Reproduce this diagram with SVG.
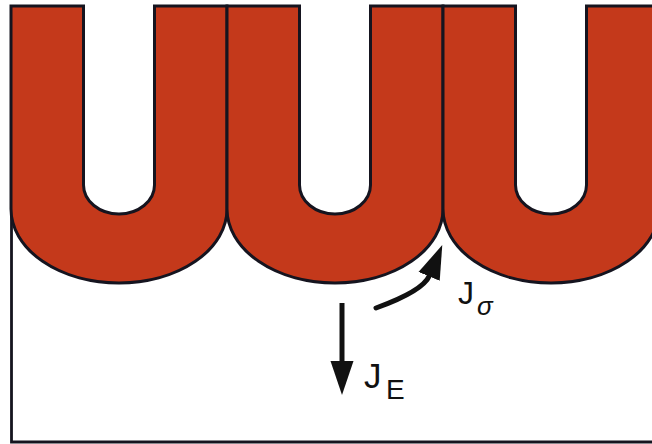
<svg xmlns="http://www.w3.org/2000/svg" width="652" height="444" viewBox="0 0 652 444">
  <style>
    .u { fill: #c4391b; stroke: #15141f; stroke-width: 3; stroke-linejoin: miter; }
    .frame { fill: none; stroke: #15141f; stroke-width: 2.8; }
    .shaft { fill: none; stroke: #111; stroke-width: 5; }
    .lbl { font-family: "Liberation Sans", Arial, sans-serif; fill: #111; }
  </style>
  <defs>
    <marker id="head" markerUnits="userSpaceOnUse" viewBox="0 0 34 24" markerWidth="34" markerHeight="24" refX="1" refY="12" orient="auto">
      <path d="M0,0.5 L34,12 L0,23.5 Z" fill="#111"/>
    </marker>
  </defs>
  <rect x="0" y="0" width="652" height="444" fill="#ffffff"/>
  <path class="frame" d="M11.5,6 L11.5,442 L652,442"/>
  <g id="u1">
    <path class="u" d="M11,6 L11,209 A108,74 0 0 0 227,209 L227,6 L154.5,6 L154.5,185 A35.5,29 0 0 1 83.5,185 L83.5,6 Z"/>
  </g>
  <g id="u2">
    <path class="u" d="M227,6 L227,209 A108,74 0 0 0 443,209 L443,6 L370.5,6 L370.5,185 A35.5,29 0 0 1 299.5,185 L299.5,6 Z"/>
  </g>
  <g id="u3">
    <path class="u" d="M443,6 L443,209 A108,74 0 0 0 659,209 L659,6 L586.5,6 L586.5,185 A35.5,29 0 0 1 515.5,185 L515.5,6 Z"/>
  </g>
  <g id="connectors">
    <path class="shaft" d="M342,303 L342,362" marker-end="url(#head)"/>
    <path class="shaft" stroke-linecap="round" d="M376,308 Q423,291 429.5,275.5" marker-end="url(#head)"/>
  </g>
  <g id="label-je">
    <text class="lbl" x="364" y="388" font-size="35">J</text>
    <text class="lbl" x="386" y="399" font-size="28">E</text>
  </g>
  <g id="label-jsigma">
    <text class="lbl" x="458" y="304" font-size="32">J</text>
    <text class="lbl" x="477" y="315" font-size="26" font-style="italic">σ</text>
  </g>
</svg>
